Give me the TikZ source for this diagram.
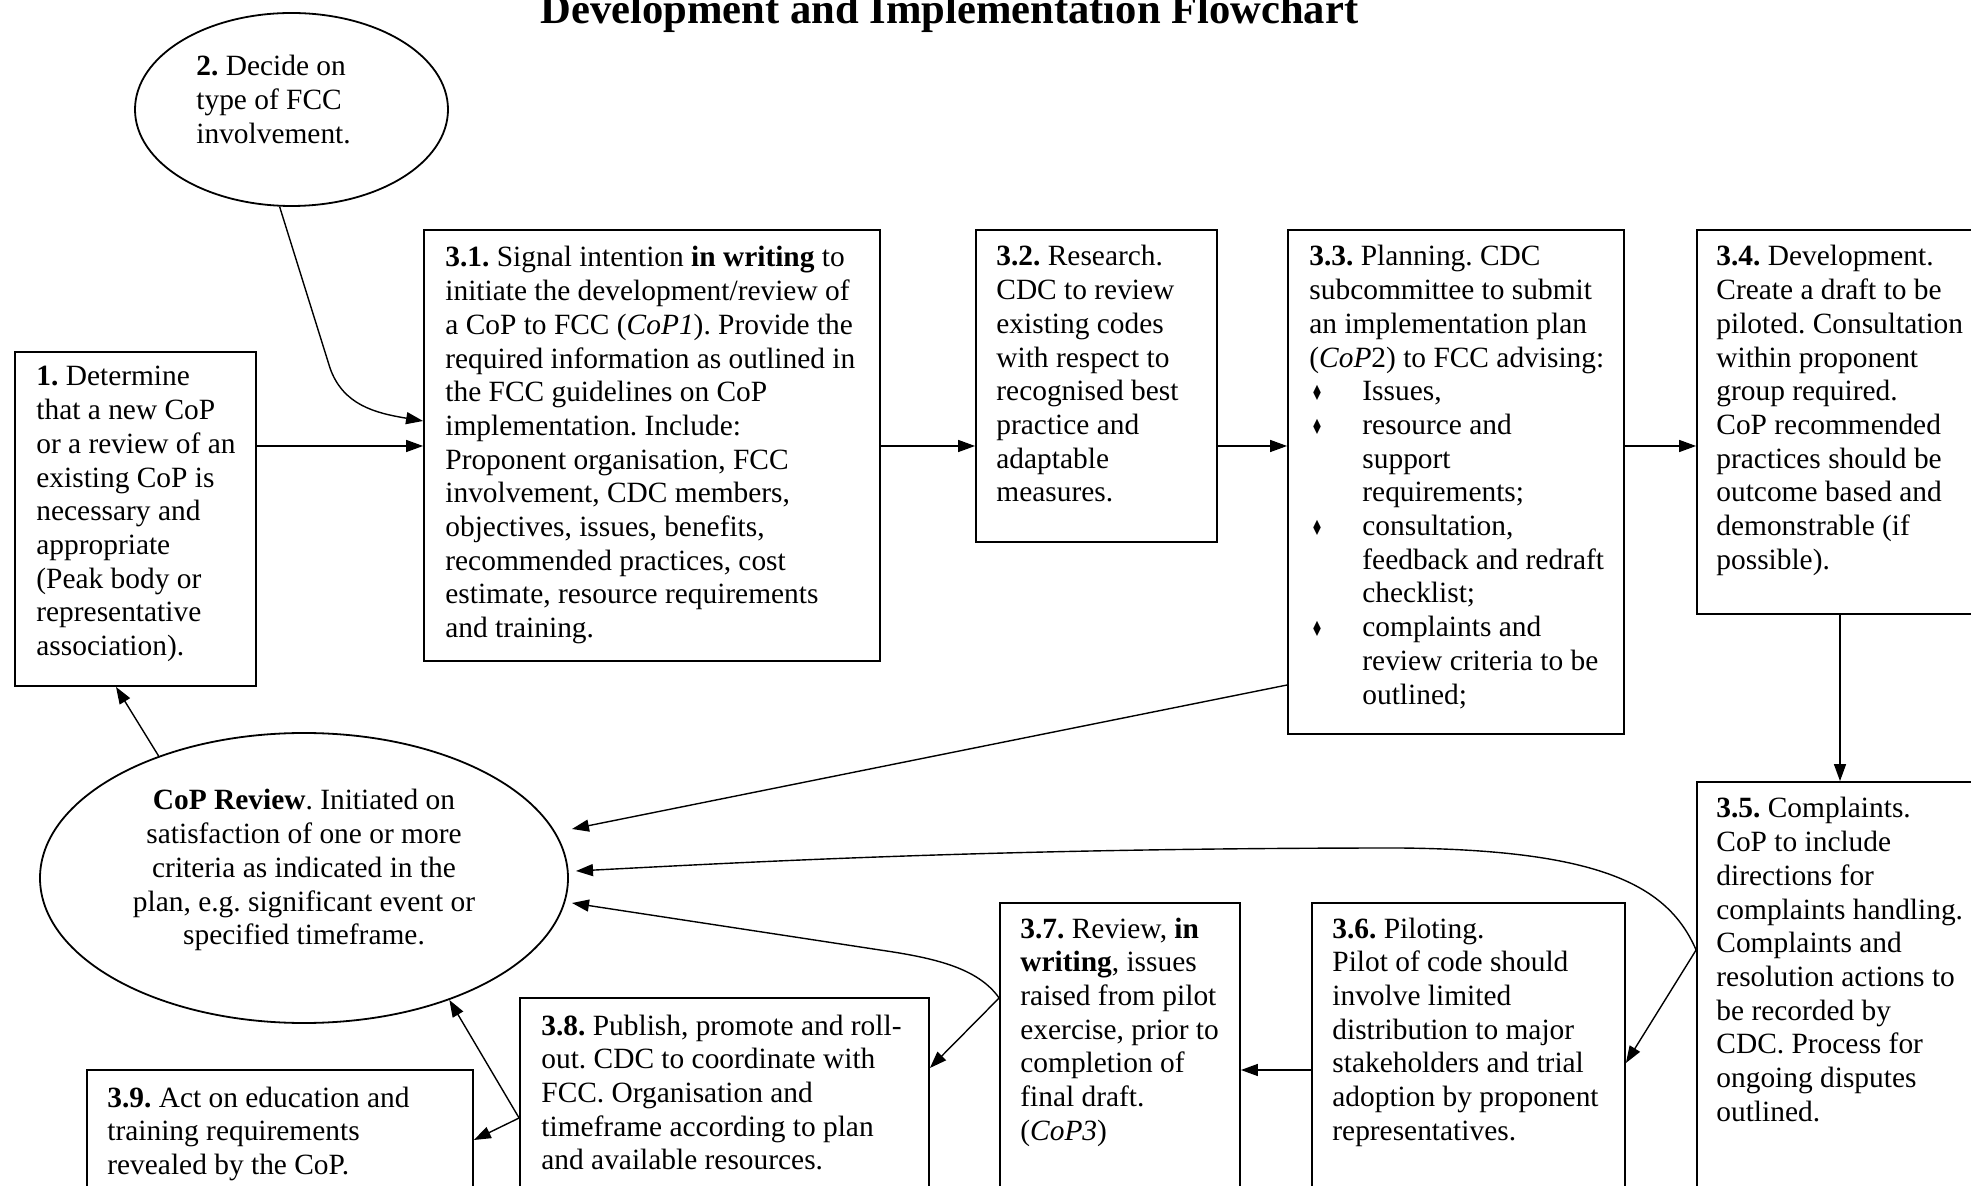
\documentclass[tikz,border=0pt]{standalone}
\usepackage{fontspec}
\setmainfont{Liberation Serif}
\newfontfamily\symf{DejaVu Sans}
\usetikzlibrary{shapes.geometric,arrows.meta,fit}
\newcommand\bodyfnt{\fontsize{14.7pt}{16.85pt}\selectfont}
\newcommand\titlefnt{\fontsize{21.3pt}{25pt}\selectfont\bfseries}
\newcommand\bul{\makebox[26.5pt][l]{\hspace*{0.8pt}\resizebox{6pt}{7.6pt}{\symf ♦}}}
\newcommand\bulind{\hspace*{26.5pt}}
\newcommand\lefttext[1]{\parbox[t]{400pt}{\raggedright\frenchspacing #1}}
\tikzset{
  box/.style={draw, rectangle, line width=0.9pt, inner sep=0pt},
  ell/.style={draw, ellipse, line width=0.9pt, inner sep=0pt},
  txt/.style={anchor=base west, inner sep=0pt, font=\bodyfnt},
  arr/.style={line width=0.7pt, -{Triangle[length=8.5pt,width=6pt]}},
}
\begin{document}
\frenchspacing
\begin{tikzpicture}[x=0.5pt,y=-0.5pt]
\useasboundingbox (0,0) rectangle (1971,1186);
\fill[white] (0,0) rectangle (1971,1186);
\clip (0,0) rectangle (1971,1186);

% title
\node[anchor=base, inner sep=0pt, font=\titlefnt] (title) at (949.5,24) {Development and Implementation Flowchart};

% ellipses
\node[ell, minimum width=156.5pt, minimum height=96.5pt] (e2) at (291.5,109.5) {};
\node[txt] (te2) at (196,76) {\lefttext{\textbf{2.} Decide on\\type of FCC\\involvement.}};

\node[ell, minimum width=264pt, minimum height=145pt] (er) at (304,878) {};
\node[anchor=base, inner sep=0pt, font=\bodyfnt] (ter) at (304,810) {\parbox[t]{300pt}{\centering\frenchspacing \textbf{CoP Review}. Initiated on\\satisfaction of one or more\\criteria as indicated in the\\plan, e.g. significant event or\\specified timeframe.}};

% boxes
\node[box, fit={(15,352) (256,686)}] (b1) {};
\node[txt] (t1) at (36,386) {\lefttext{\textbf{1.} Determine\\that a new CoP\\or a review of an\\existing CoP is\\necessary and\\appropriate\\(Peak body or\\representative\\association).}};

\node[box, fit={(424,230) (880,661)}] (b31) {};
\node[txt] (t31) at (445,267) {\lefttext{\textbf{3.1.} Signal intention \textbf{in writing} to\\initiate the development/review of\\a CoP to FCC (\textit{CoP1}). Provide the\\required information as outlined in\\the FCC guidelines on CoP\\implementation. Include:\\Proponent organisation, FCC\\involvement, CDC members,\\objectives, issues, benefits,\\recommended practices, cost\\estimate, resource requirements\\and training.}};

\node[box, fit={(976,230) (1217,542)}] (b32) {};
\node[txt] (t32) at (996,266) {\lefttext{\textbf{3.2.} Research.\\CDC to review\\existing codes\\with respect to\\recognised best\\practice and\\adaptable\\measures.}};

\node[box, fit={(1288,230) (1624,734)}] (b33) {};
\node[txt] (t33) at (1309,266) {\lefttext{\textbf{3.3.} Planning. CDC\\subcommittee to submit\\an implementation plan\\(\textit{CoP}2) to FCC advising:\\\bul Issues,\\\bul resource and\\\bulind support\\\bulind requirements;\\\bul consultation,\\\bulind feedback and redraft\\\bulind checklist;\\\bul complaints and\\\bulind review criteria to be\\\bulind outlined;}};

\node[box, fit={(1697,230) (1990,614)}] (b34) {};
\node[txt] (t34) at (1716,266) {\lefttext{\textbf{3.4.} Development.\\Create a draft to be\\piloted. Consultation\\within proponent\\group required.\\CoP recommended\\practices should be\\outcome based and\\demonstrable (if\\possible).}};

\node[box, fit={(1697,782) (1990,1210)}] (b35) {};
\node[txt] (t35) at (1716,818) {\lefttext{\textbf{3.5.} Complaints.\\CoP to include\\directions for\\complaints handling.\\Complaints and\\resolution actions to\\be recorded by\\CDC. Process for\\ongoing disputes\\outlined.}};

\node[box, fit={(1312,903) (1625,1210)}] (b36) {};
\node[txt] (t36) at (1332,938) {\lefttext{\textbf{3.6.} Piloting.\\Pilot of code should\\involve limited\\distribution to major\\stakeholders and trial\\adoption by proponent\\representatives.}};

\node[box, fit={(1000,903) (1240,1210)}] (b37) {};
\node[txt] (t37) at (1020,938) {\lefttext{\textbf{3.7.} Review, \textbf{in}\\\textbf{writing}, issues\\raised from pilot\\exercise, prior to\\completion of\\final draft.\\(\textit{CoP3})}};

\node[box, fit={(520,998) (929,1210)}] (b38) {};
\node[txt] (t38) at (541,1035) {\lefttext{\textbf{3.8.} Publish, promote and roll-\\out. CDC to coordinate with\\FCC. Organisation and\\timeframe according to plan\\and available resources.}};

\node[box, fit={(87,1070) (473,1210)}] (b39) {};
\node[txt] (t39) at (107,1107) {\lefttext{\textbf{3.9.} Act on education and\\training requirements\\revealed by the CoP.}};

% helper coordinates
\coordinate (y446) at (0,446);
\coordinate (y421) at (0,421);
\coordinate (y685) at (0,685);
\coordinate (x1840) at (1840,0);
\coordinate (y950) at (0,950);
\coordinate (y1063) at (0,1063);
\coordinate (y1070) at (0,1070);
\coordinate (y998) at (0,998);
\coordinate (y1068) at (0,1068);
\coordinate (y1118) at (0,1118);
\coordinate (y1140) at (0,1140);
\coordinate (x116) at (116,0);
\coordinate (r1) at (572,829);
\coordinate (r2) at (576,871);
\coordinate (r3) at (572,903);
\coordinate (k1) at (330,368);
\coordinate (k2) at (1400,848);
\coordinate (k3) at (880,950);

% connectors
\draw[arr] (e2.263) -- (k1) .. controls (343,405) and (375,413) .. (b31.west |- y421);
\draw[arr] (b1.east |- y446) -- (b31.west |- y446);
\draw[arr] (b31.east |- y446) -- (b32.west |- y446);
\draw[arr] (b32.east |- y446) -- (b33.west |- y446);
\draw[arr] (b33.east |- y446) -- (b34.west |- y446);
\draw[arr] (b34.south -| x1840) -- (b35.north -| x1840);
\draw[arr] (b33.west |- y685) -- (r1);
\draw[arr] (b35.west |- y950) .. controls (1668,885) and (1600,850) .. (k2) .. controls (1000,848) and (750,862) .. (r2);
\draw[arr] (b35.west |- y950) -- (b36.east |- y1063);
\draw[arr] (b36.west |- y1070) -- (b37.east |- y1070);
\draw[arr] (b37.west |- y998) .. controls (978,968) and (935,958) .. (k3) -- (r3);
\draw[arr] (b37.west |- y998) -- (b38.east |- y1068);
\draw[arr] (b38.west |- y1118) -- (er.-40);
\draw[arr] (b38.west |- y1118) -- (b39.east |- y1140);
\draw[arr] (er.140) -- (b1.south -| x116);
\end{tikzpicture}
\end{document}
